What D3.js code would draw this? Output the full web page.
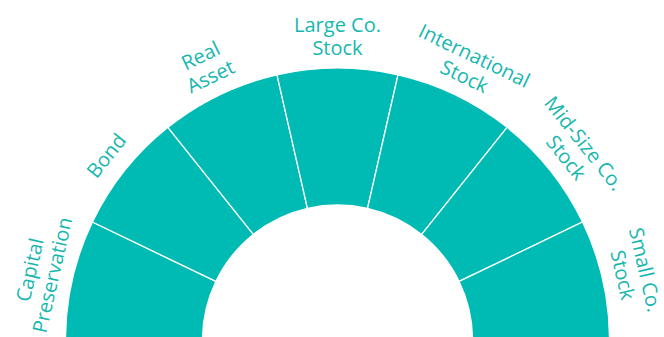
<!DOCTYPE html>
<html lang="en">
<head>
    <meta charset="UTF-8">
    <title>Asset Classes</title>
    <style>
        body { margin: 0; background: #fff; }
        .slice { fill: #00bbb4; stroke: #fff; stroke-width: 1.3px; }
        text {
            font-family: "Open Sans", Lato, sans-serif;
            font-size: 20px;
            fill: #17b7af;
        }
    </style>
    <script src="https://d3js.org/d3.v7.min.js"></script>
</head>
<body>
    <svg width="664" height="337"></svg>

    <script>
        // Asset classes, left to right
        const categories = [
            "Capital Preservation",
            "Bond",
            "Real Asset",
            "Large Co. Stock",
            "International Stock",
            "Mid-Size Co. Stock",
            "Small Co. Stock"
        ];
        // label broken onto lines (outer line first)
        const labelLines = [
            ["Capital", "Preservation"],
            ["Bond"],
            ["Real", "Asset"],
            ["Large Co.", "Stock"],
            ["International", "Stock"],
            ["Mid-Size Co.", "Stock"],
            ["Small Co.", "Stock"]
        ];
        // every slice the same size
        const values = [1, 1, 1, 1, 1, 1, 1];

        const cx = 337.5, cy = 340;
        const innerR = 135, outerR = 272;

        const svg = d3.select("svg");
        const g = svg.append("g").attr("transform", `translate(${cx},${cy})`);

        const pie = d3.pie()
            .sort(null)
            .startAngle(-Math.PI / 2)
            .endAngle(Math.PI / 2);

        const arcs = pie(values);
        const arc = d3.arc().innerRadius(innerR).outerRadius(outerR);

        g.selectAll("path")
            .data(arcs)
            .enter()
            .append("path")
            .attr("class", "slice")
            .attr("d", arc);

        // labels: rotated to the slice middle, outer line at r 316, next at 293
        const lineR = [316, 293];
        const labels = g.selectAll(".label")
            .data(arcs)
            .enter()
            .append("g")
            .attr("class", "label");

        labels.each(function(d, i) {
            const mid = (d.startAngle + d.endAngle) / 2;
            const deg = mid * 180 / Math.PI;
            const lines = labelLines[i];
            lines.forEach((txt, j) => {
                // single-line label sits between the two rows
                const r = lines.length === 1 ? 296 : lineR[j];
                d3.select(this).append("text")
                    .attr("transform", `rotate(${deg}) translate(0,${-r})`)
                    .attr("text-anchor", "middle")
                    .attr("dominant-baseline", "central")
                    .text(txt);
            });
        });
    </script>
</body>
</html>
